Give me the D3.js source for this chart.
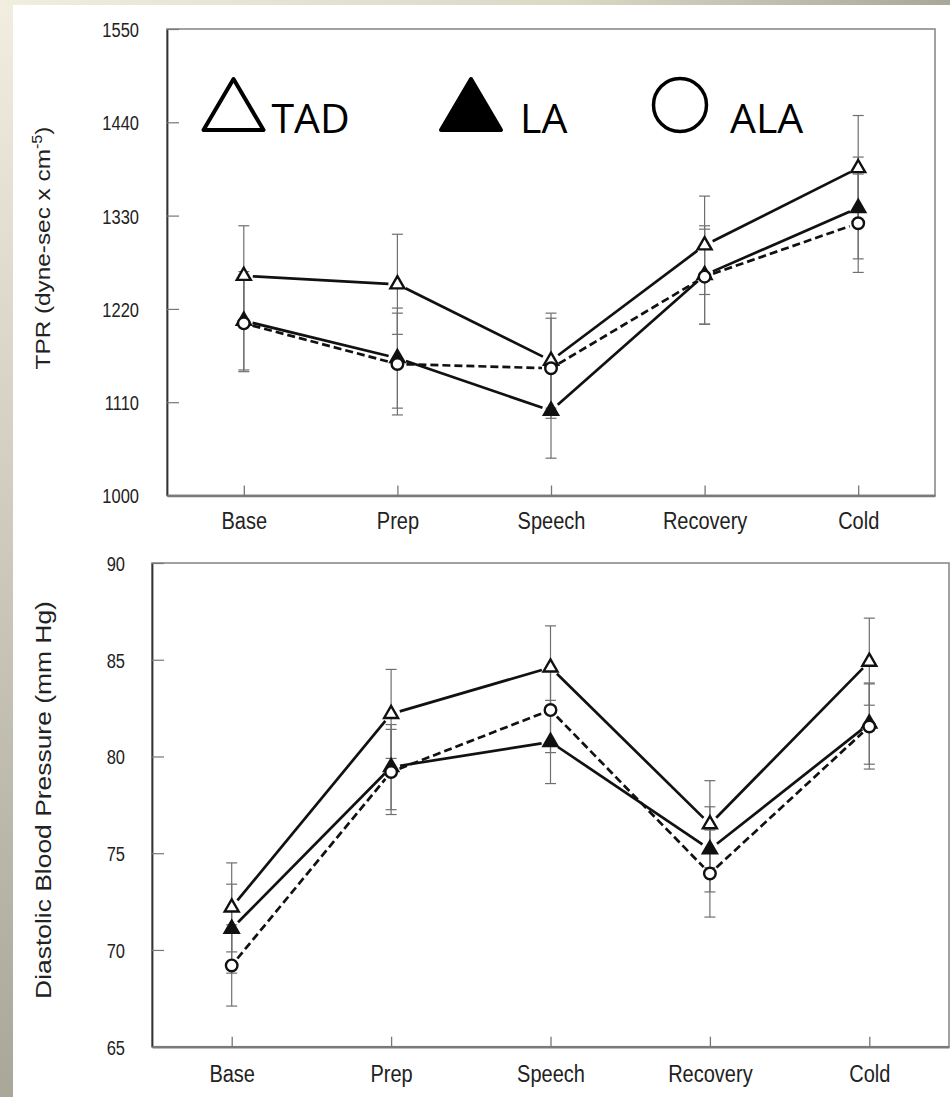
<!DOCTYPE html>
<html><head><meta charset="utf-8">
<script src="https://cdn.jsdelivr.net/npm/d3@7"></script>
<style>body{margin:0;background:#fff}</style>
</head><body><svg id="c" width="950" height="1097"></svg>
<script>
// ---- data ----
const categories = ["Base", "Prep", "Speech", "Recovery", "Cold"];
const seriesNames = ["TAD", "LA", "ALA"];
const yTicksTPR = [1000, 1110, 1220, 1330, 1440, 1550];
const yTicksDBP = [65, 70, 75, 80, 85, 90];

const tprTAD    = [1259, 1249, 1159, 1295, 1386];
const tprTADErr = [59, 59, 56, 58, 62];
const tprLA     = [1206, 1162, 1100, 1260, 1339];
const tprLAErr  = [58, 59, 56, 58, 60];
const tprALA    = [1203, 1155, 1150, 1258, 1321];
const tprALAErr = [57, 60, 59, 56, 58];

const dbpTAD    = [72.2, 82.2, 84.6, 76.5, 84.9];
const dbpTADErr = [2.3, 2.3, 2.15, 2.25, 2.25];
const dbpLA     = [71.1, 79.45, 80.75, 75.2, 81.7];
const dbpLAErr  = [2.3, 2.2, 2.15, 2.2, 2.1];
const dbpALA    = [69.2, 79.2, 82.4, 73.95, 81.55];
const dbpALAErr = [2.1, 2.2, 2.2, 2.25, 2.2];

// ---- drawing ----
const svg = d3.select("#c");
const defs = svg.append("defs");
const gl = defs.append("linearGradient").attr("id", "gLeft").attr("x1", 0).attr("y1", 0).attr("x2", 0).attr("y2", 1);
gl.append("stop").attr("offset", "0%").attr("stop-color", "#f1eddf");
gl.append("stop").attr("offset", "100%").attr("stop-color", "#a9a797");
const gt = defs.append("linearGradient").attr("id", "gTop").attr("x1", 0).attr("y1", 0).attr("x2", 1).attr("y2", 0);
gt.append("stop").attr("offset", "0%").attr("stop-color", "#f1eddf");
gt.append("stop").attr("offset", "60%").attr("stop-color", "#dcd8c6");
gt.append("stop").attr("offset", "100%").attr("stop-color", "#a9a797");
svg.append("rect").attr("x", 0).attr("y", 0).attr("width", 950).attr("height", 1097).attr("fill", "#fff");
svg.append("rect").attr("x", 0).attr("y", 0).attr("width", 950).attr("height", 5).attr("fill", "url(#gTop)");
svg.append("rect").attr("x", 0).attr("y", 0).attr("width", 13).attr("height", 1097).attr("fill", "url(#gLeft)");

const tickFont = "'Liberation Sans',Arial,sans-serif";
const styles = {
  TAD: { shape: d3.symbolTriangle, fill: "#fff", dash: null },
  LA:  { shape: d3.symbolTriangle, fill: "#111", dash: null },
  ALA: { shape: d3.symbolCircle,   fill: "#fff", dash: "8,4" }
};

function panel(cfg) {
  const g = svg.append("g");
  const x = d3.scalePoint().domain(categories).range([cfg.x0, cfg.x1]).padding(0.5);
  const y = d3.scaleLinear().domain(cfg.domain).range([cfg.yb, cfg.yt]);

  // frame
  g.append("rect").attr("x", cfg.x0).attr("y", cfg.yt)
    .attr("width", cfg.x1 - cfg.x0).attr("height", cfg.yb - cfg.yt)
    .attr("fill", "none").attr("stroke", "#8a8a8a").attr("stroke-width", 1.6);

  // axes
  const ya = g.append("g").attr("transform", `translate(${cfg.x0},0)`)
    .call(d3.axisLeft(y).tickValues(cfg.ticks).tickSizeInner(-12).tickSizeOuter(0).tickPadding(cfg.pad).tickFormat(d3.format("d")));
  ya.select(".domain").attr("stroke", "#333").attr("stroke-width", 1.8);
  ya.selectAll(".tick line").attr("stroke", "#777").attr("stroke-width", 1.2);
  ya.selectAll(".tick text").attr("font-family", tickFont).attr("font-size", 16.5).attr("fill", "#222")
    .attr("dy", "0.36em").attr("transform", "scale(1,1.25)");

  const xa = g.append("g").attr("transform", `translate(0,${cfg.yb})`)
    .call(d3.axisBottom(x).tickSizeInner(-10).tickSizeOuter(0));
  xa.select(".domain").attr("stroke", "#7a7a7a").attr("stroke-width", 2.6);
  xa.selectAll(".tick line").attr("stroke", "#777").attr("stroke-width", 1.3);
  xa.selectAll(".tick text").attr("font-family", tickFont).attr("font-size", 20).attr("fill", "#222")
    .attr("y", 0).attr("dy", 0).attr("transform", `translate(0,${cfg.xbase}) scale(1,1.15)`);

  // y title (stretched along its length like the source figure)
  const t = g.append("text").attr("text-anchor", "middle").attr("font-family", tickFont)
    .attr("font-size", cfg.tfs).attr("fill", "#222");
  cfg.title(t);
  const natural = t.node().getComputedTextLength();
  t.attr("transform", `translate(${cfg.titleX},${cfg.titleY}) rotate(-90) scale(${cfg.titleLen / natural},1)`);

  // error bars
  cfg.series.forEach(s => {
    const eg = g.append("g");
    s.values.forEach((v, i) => {
      const cx = x(categories[i]);
      const yt = y(v + s.err[i]), yb = y(v - s.err[i]);
      eg.append("line").attr("x1", cx).attr("x2", cx).attr("y1", yt).attr("y2", yb)
        .attr("stroke", "#6f6f6f").attr("stroke-width", 1.2);
      [yt, yb].forEach(yy => eg.append("line").attr("x1", cx - 5.5).attr("x2", cx + 5.5)
        .attr("y1", yy).attr("y2", yy).attr("stroke", "#6f6f6f").attr("stroke-width", 1.2));
    });
  });

  // lines with gaps at markers
  const line = d3.line();
  cfg.series.forEach(s => {
    const pts = s.values.map((v, i) => [x(categories[i]), y(v)]);
    for (let i = 0; i < pts.length - 1; i++) {
      const [x0, y0] = pts[i], [x1, y1] = pts[i + 1];
      const L = Math.hypot(x1 - x0, y1 - y0), gap = 9;
      const ux = (x1 - x0) / L, uy = (y1 - y0) / L;
      g.append("path").attr("d", line([[x0 + ux * gap, y0 + uy * gap], [x1 - ux * gap, y1 - uy * gap]]))
        .attr("fill", "none").attr("stroke", "#111").attr("stroke-width", 2.7)
        .attr("stroke-dasharray", styles[s.name].dash);
    }
  });

  // markers
  cfg.series.forEach(s => {
    const st = styles[s.name];
    const sym = d3.symbol().type(st.shape).size(st.shape === d3.symbolCircle ? 105 : 85);
    g.selectAll(null).data(s.values).join("path")
      .attr("transform", (v, i) => `translate(${x(categories[i])},${y(v)})`)
      .attr("d", sym).attr("fill", st.fill).attr("stroke", "#111").attr("stroke-width", 2.4);
  });
  return g;
}

panel({
  x0: 167, x1: 935, yt: 29, yb: 495.5, domain: [1000, 1550], ticks: yTicksTPR,
  pad: 28, xbase: 33, titleX: 50, titleY: 248, titleLen: 243, tfs: 21,
  title: t => { t.append("tspan").text("TPR (dyne-sec x cm");
                t.append("tspan").attr("font-size", 14).attr("dy", -8).text("-5");
                t.append("tspan").attr("dy", 8).text(")"); },
  series: [
    { name: "TAD", values: tprTAD, err: tprTADErr },
    { name: "LA",  values: tprLA,  err: tprLAErr },
    { name: "ALA", values: tprALA, err: tprALAErr }
  ]
});

panel({
  x0: 152, x1: 949, yt: 563, yb: 1046.7, domain: [65, 90], ticks: yTicksDBP,
  pad: 27, xbase: 35, titleX: 51, titleY: 800, titleLen: 398, tfs: 22.5,
  title: t => t.text("Diastolic Blood Pressure (mm Hg)"),
  series: [
    { name: "TAD", values: dbpTAD, err: dbpTADErr },
    { name: "LA",  values: dbpLA,  err: dbpLAErr },
    { name: "ALA", values: dbpALA, err: dbpALAErr }
  ]
});

// legend
const leg = svg.append("g");
const legPos = { TAD: 233.5, LA: 471, ALA: 680 };
const legTextOff = { TAD: 38, LA: 49, ALA: 50 };
const legFont = "'Open Sans','Noto Sans',sans-serif";
seriesNames.forEach(n => {
  const cx = legPos[n], cy = 105;
  if (n === "ALA") {
    leg.append("circle").attr("cx", cx).attr("cy", cy).attr("r", 26.5)
      .attr("fill", "#fff").attr("stroke", "#000").attr("stroke-width", 3.5);
  } else {
    const pts = [[cx, 79], [cx + 30, 130], [cx - 30, 130]];
    leg.append("path").attr("d", d3.line()(pts) + "Z")
      .attr("fill", n === "LA" ? "#000" : "#fff").attr("stroke", "#000")
      .attr("stroke-width", 4).attr("stroke-linejoin", "round");
  }
  leg.append("text").attr("x", cx + legTextOff[n]).attr("y", 133)
    .attr("font-family", legFont).attr("font-size", 41).attr("fill", "#000").text(n);
});
</script></body></html>
